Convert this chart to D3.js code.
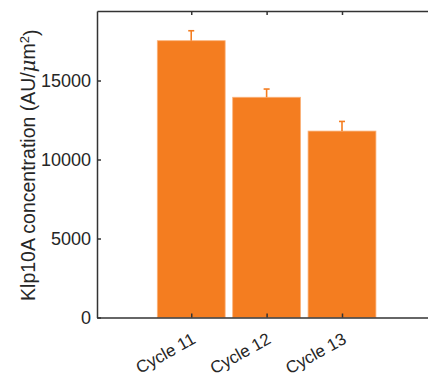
<!DOCTYPE html>
<html>
<head>
<meta charset="utf-8">
<script src="https://d3js.org/d3.v7.min.js"></script>
<style>
  body { margin: 0; background: #fff; }
  text { font-family: "Liberation Sans", Arial, sans-serif; fill: #262626; }
</style>
</head>
<body>
<svg width="428" height="376"></svg>
<script>
// data
const cycles = ["Cycle 11", "Cycle 12", "Cycle 13"];
const means = [17520, 13940, 11800];
const errs = [630, 520, 610];
const yTicks = [0, 5000, 10000, 15000];

const svg = d3.select("svg");
const mLeft = 97, mRight = 440, mTop = 11, mBottom = 317.5;

// categories live at 1, 2, 3 like in the original plot
const x = d3.scaleLinear().domain([-0.25, 4.3]).range([mLeft, mRight]);
const y = d3.scaleLinear().domain([0, 19400]).range([mBottom, mTop]);
const bw = 0.9;

const g = svg.append("g");

// bars
g.selectAll("rect.bar")
  .data(means).enter().append("rect")
  .attr("class", "bar")
  .attr("x", (d, i) => x(i + 1 - bw / 2))
  .attr("width", x(bw) - x(0))
  .attr("y", d => y(d))
  .attr("height", d => y(0) - y(d))
  .attr("fill", "#f47d20")
  .attr("stroke", "#fbb27a")
  .attr("stroke-width", 0.8);

// error bars (upper only)
const eb = g.selectAll("g.err").data(means).enter().append("g");
eb.append("line")
  .attr("x1", (d, i) => x(i + 1)).attr("x2", (d, i) => x(i + 1))
  .attr("y1", d => y(d)).attr("y2", (d, i) => y(d + errs[i]))
  .attr("stroke", "#f47d20").attr("stroke-width", 1.6);
eb.append("line")
  .attr("x1", (d, i) => x(i + 1) - 3).attr("x2", (d, i) => x(i + 1) + 3)
  .attr("y1", (d, i) => y(d + errs[i])).attr("y2", (d, i) => y(d + errs[i]))
  .attr("stroke", "#f47d20").attr("stroke-width", 1.6);

// axes box, ticks inside
const axColor = "#333";
const yAxis = d3.axisLeft(y).tickValues(yTicks).tickFormat(d3.format("d"))
  .tickSizeInner(-4).tickSizeOuter(0).tickPadding(6);
const yG = g.append("g").attr("transform", `translate(${mLeft},0)`).call(yAxis);
yG.selectAll("text").style("font-size", "18px").attr("dy", "0.36em");

const xAxis = d3.axisBottom(x).tickValues([1, 2, 3]).tickFormat(d => cycles[d - 1])
  .tickSizeInner(-4).tickSizeOuter(0);
const xG = g.append("g").attr("transform", `translate(0,${mBottom})`).call(xAxis);
xG.selectAll("text")
  .style("font-size", "17px")
  .style("text-anchor", "end")
  .attr("x", 5)
  .attr("y", 25)
  .attr("dy", 0)
  .attr("transform", "rotate(-29,5,25)");

const xTop = d3.axisTop(x).tickValues([1, 2, 3]).tickFormat("").tickSizeInner(-4).tickSizeOuter(0);
g.append("g").attr("transform", `translate(0,${mTop})`).call(xTop);

[yG, xG].forEach(a => a.selectAll("text").style("fill", "#262626"));
g.selectAll(".domain, .tick line").attr("stroke", axColor).attr("stroke-width", 1.5);

// y label
const lab = svg.append("text")
  .attr("transform", `translate(35,${(mTop + mBottom) / 2 + 1}) rotate(-90)`)
  .attr("text-anchor", "middle")
  .style("font-size", "19.5px");
lab.append("tspan").text("Klp10A concentration (AU/");
lab.append("tspan").style("font-style", "italic").style("font-family", "'DejaVu Serif', serif").text("μ");
lab.append("tspan").text("m");
lab.append("tspan").attr("dy", "-0.5em").style("font-size", "13px").text("2");
lab.append("tspan").attr("dy", "0.5em").text(")");
</script>
</body>
</html>
